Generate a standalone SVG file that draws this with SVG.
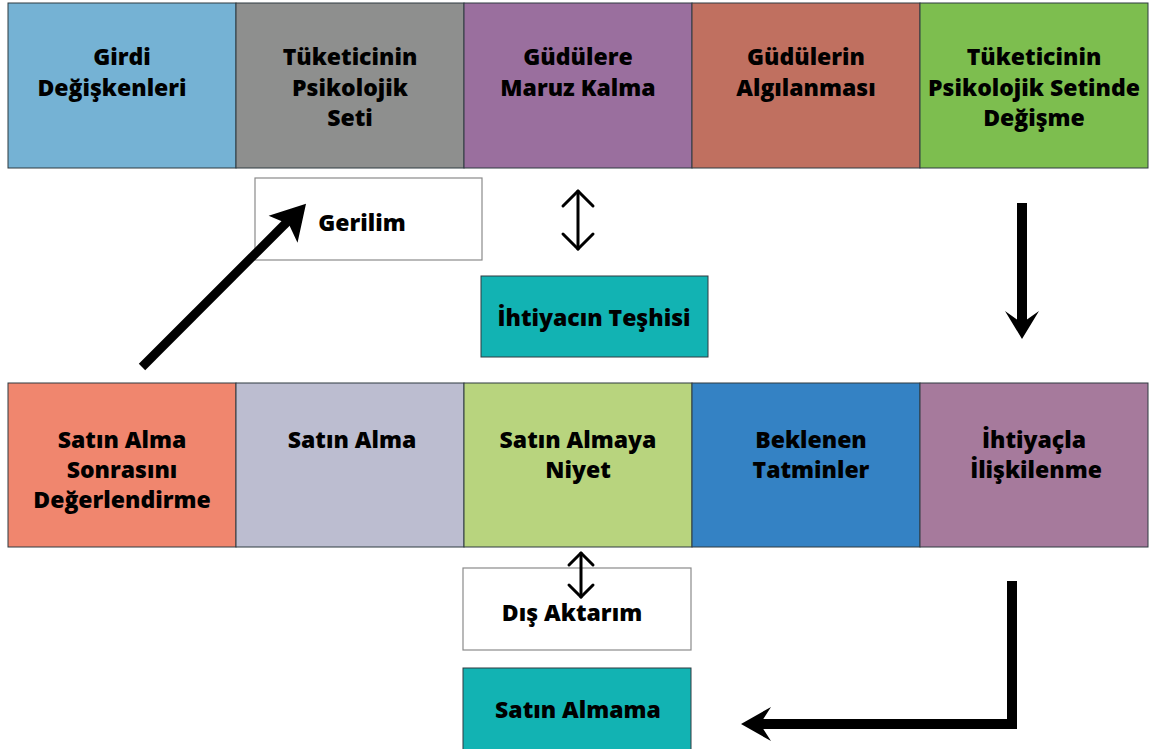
<svg xmlns="http://www.w3.org/2000/svg" width="1160" height="749" viewBox="0 0 1160 749">
<style>
.b{stroke:#2f3a40;stroke-width:1}
.w{fill:#fff;stroke:#8a8a8a;stroke-width:1.2}
text{font-family:"Open Sans","Liberation Sans",sans-serif;font-weight:800;font-size:23px;fill:#000;text-anchor:middle}
.thin{fill:none;stroke:#000;stroke-width:3;stroke-linecap:round;stroke-linejoin:round}
.thick{fill:none;stroke:#000;stroke-width:10}
</style>
<rect width="1160" height="749" fill="#fff"/>
<g id="n1"><rect class="b" x="8" y="3" width="228" height="165" fill="#75b2d4"/><text x="122" y="65">Girdi</text><text x="112" y="96">Değişkenleri</text></g>
<g id="n2"><rect class="b" x="236" y="3" width="228" height="165" fill="#8e8f8e"/><text x="350" y="65">Tüketicinin</text><text x="350" y="96">Psikolojik</text><text x="350" y="126">Seti</text></g>
<g id="n3"><rect class="b" x="464" y="3" width="228" height="165" fill="#9a6f9e"/><text x="578" y="65">Güdülere</text><text x="578" y="96">Maruz Kalma</text></g>
<g id="n4"><rect class="b" x="692" y="3" width="228" height="165" fill="#c07060"/><text x="806" y="65">Güdülerin</text><text x="806" y="96">Algılanması</text></g>
<g id="n5"><rect class="b" x="920" y="3" width="228" height="165" fill="#7dbe4f"/><text x="1034" y="65">Tüketicinin</text><text x="1034" y="96">Psikolojik Setinde</text><text x="1034" y="126">Değişme</text></g>
<g id="n6"><rect class="w" x="255" y="178" width="227" height="82"/><text x="362" y="231">Gerilim</text></g>
<g id="n7"><rect class="b" x="481" y="276" width="227" height="81" fill="#12b3b3"/><text x="594" y="326">İhtiyacın Teşhisi</text></g>
<g id="n8"><rect class="b" x="8" y="383" width="228" height="164" fill="#f0866e"/><text x="122" y="448">Satın Alma</text><text x="122" y="478">Sonrasını</text><text x="122" y="508">Değerlendirme</text></g>
<g id="n9"><rect class="b" x="236" y="383" width="228" height="164" fill="#bcbdd0"/><text x="352" y="448">Satın Alma</text></g>
<g id="n10"><rect class="b" x="464" y="383" width="228" height="164" fill="#b8d47e"/><text x="578" y="448">Satın Almaya</text><text x="578" y="478">Niyet</text></g>
<g id="n11"><rect class="b" x="692" y="383" width="228" height="164" fill="#3482c4"/><text x="811" y="448">Beklenen</text><text x="811" y="478">Tatminler</text></g>
<g id="n12"><rect class="b" x="920" y="383" width="228" height="164" fill="#a67a9c"/><text x="1034" y="448">İhtiyaçla</text><text x="1036" y="478">İlişkilenme</text></g>
<g id="n13"><rect class="w" x="463" y="568" width="228" height="82"/><text x="572" y="621">Dış Aktarım</text></g>
<g id="n14"><rect class="b" x="463" y="668" width="228" height="90" fill="#12b3b3"/><text x="578" y="718">Satın Almama</text></g>
<g id="connectors">
<line x1="142" y1="367" x2="296" y2="213" stroke="#000" stroke-width="9"/>
<path d="M304 206 L297 238 L290 223 L273 216 Z" fill="#000" stroke="#000" stroke-width="3" stroke-linejoin="miter"/>
<line class="thin" x1="578" y1="191" x2="578" y2="249"/>
<polyline class="thin" points="563,206 578,191 593,206"/>
<polyline class="thin" points="563,234 578,249 593,234"/>
<line x1="1022" y1="203" x2="1022" y2="325" stroke="#000" stroke-width="10"/>
<path d="M1022 339 L1005 311 L1022 323 L1039 311 Z" fill="#000"/>
<line class="thin" x1="581" y1="553" x2="581" y2="597"/>
<polyline class="thin" points="569,565 581,553 593,565"/>
<polyline class="thin" points="569,585 581,597 593,585"/>
<polyline class="thick" points="1012,581 1012,724 755,724"/>
<path d="M741 724 L771 707 L760 724 L771 741 Z" fill="#000"/>
</g>
</svg>
